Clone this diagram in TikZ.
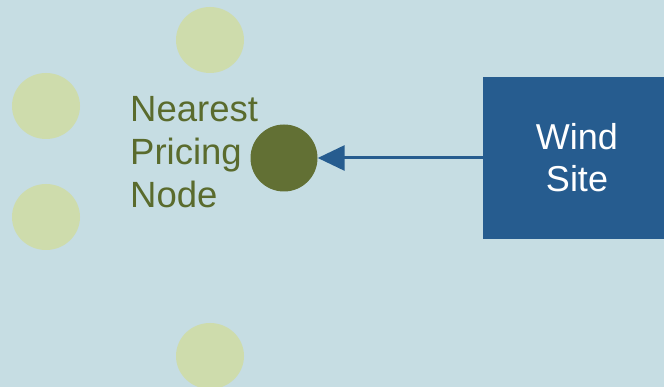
\documentclass[tikz,border=0pt]{standalone}
\usepackage{fontspec}
\setmainfont{Liberation Sans}
\usetikzlibrary{arrows.meta,shapes.geometric}
\definecolor{bgc}{HTML}{C6DDE3}
\definecolor{lightg}{HTML}{CEDCAC}
\definecolor{darkg}{HTML}{627034}
\definecolor{txtg}{HTML}{5A6B2D}
\definecolor{boxb}{HTML}{265C8F}
\tikzset{
  dot/.style={ellipse, minimum width=68pt, minimum height=66pt, inner sep=0pt, fill=lightg},
  pricedot/.style={circle, minimum size=67pt, inner sep=0pt, fill=darkg},
  site/.style={rectangle, fill=boxb, inner sep=0pt},
  sitetext/.style={text=white, inner sep=0pt, align=center, font=\fontsize{36}{42}\selectfont},
  lbl/.style={text=txtg, align=left, inner sep=0pt, font=\fontsize{36.5}{43}\selectfont},
  link/.style={draw=boxb, line width=3pt, -{Triangle[length=27pt,width=25pt]}}
}
\begin{document}
\begin{tikzpicture}[x=1pt,y=-1pt]
\useasboundingbox (0,0) rectangle (664,387);
\fill[bgc] (0,0) rectangle (664,387);
\node[dot] (d1) at (210,40) {};
\node[dot] (d2) at (46,106) {};
\node[dot] (d3) at (46,217) {};
\node[dot] (d4) at (210,356) {};
\node[pricedot] (pn) at (284,158) {};
\node[site, minimum width=181pt, minimum height=162pt] (ws) at (573.5,158) {};
\node[sitetext, anchor=base] (wst) at (577,192) {Wind\\Site};
\node[lbl, anchor=base west] (txt) at (130,208) {Nearest\\Pricing\\Node};
\draw[link] (ws.west) -- (pn.east);
\end{tikzpicture}
\end{document}
